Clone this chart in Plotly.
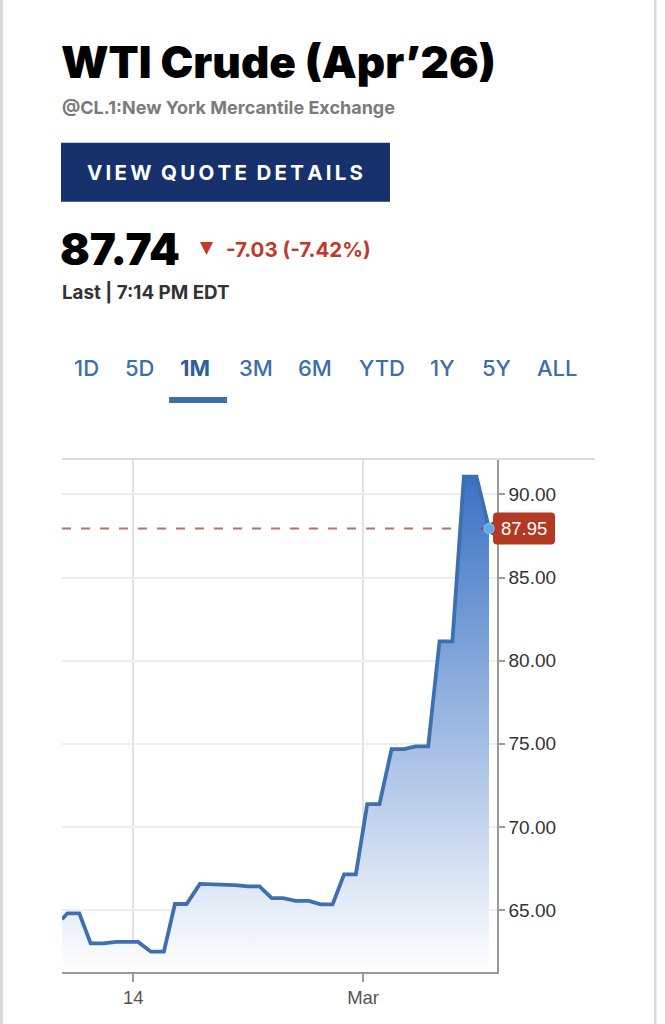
import plotly.graph_objects as go

# ---------------- data ----------------
day = [9.35, 9.70, 10.48, 11.22, 12.04, 12.91, 13.63, 14.32, 15.15, 16.00,
       16.72, 17.48, 18.35, 19.14, 19.89, 20.63, 21.50, 22.24, 23.04, 23.78,
       24.60, 25.47, 26.22, 27.01, 27.76, 28.53, 29.27, 30.07, 30.86, 31.68,
       32.43, 33.25, 33.99, 34.83, 35.58, 36.40, 37.22]
price = [64.44, 64.80, 64.80, 62.99, 62.99, 63.08, 63.08, 63.08, 62.49, 62.49,
         65.36, 65.36, 66.57, 66.55, 66.52, 66.50, 66.42, 66.42, 65.72, 65.72,
         65.55, 65.55, 65.34, 65.34, 67.14, 67.14, 71.37, 71.37, 74.68, 74.68,
         74.84, 74.84, 81.16, 81.16, 91.07, 91.07, 87.95]
x_tickvals = [14, 29]
x_ticktext = ["14", "Mar"]
y_tickvals = [65, 70, 75, 80, 85, 90]
tabs = ["1D", "5D", "1M", "3M", "6M", "YTD", "1Y", "5Y", "ALL"]
active_tab = "1M"

title = "WTI Crude (Apr\u201926)"
subtitle = "@CL.1:New York Mercantile Exchange"
button_text = "VIEW QUOTE DETAILS"
last_price = "87.74"
change_text = "-7.03 (-7.42%)"
time_text = "Last | 7:14 PM EDT"

# ---------------- layout geometry ----------------
W, H = 665, 1024
L, R, T, B = 62, 168, 459, 52
PW, PH = W - L - R, H - T - B
XR = [9.35, 37.74]
YR = [61.27, 92.13]


def px(xp):
    return (xp - L) / PW


def py(yp):
    return (H - B - yp) / PH


BLUE_LINE = "#3d70b0"
RED = "#c0392b"
TAB_BLUE = "#3d6fab"
HEAD = "Inter"

fig = go.Figure()
fig.add_trace(go.Scatter(
    x=day, y=price, mode="lines",
    line=dict(color=BLUE_LINE, width=3.8),
    fill="tozeroy",
    fillgradient=dict(type="vertical", start=YR[0], stop=max(price),
                      colorscale=[[0, "rgba(255,255,255,1)"], [1, "#3a72c4"]]),
    hoverinfo="skip", showlegend=False,
))

last_x, last_y = day[-1], price[-1]
ax_last = (last_x - XR[0]) / (XR[1] - XR[0])
ay_last = (last_y - YR[0]) / (YR[1] - YR[0])

shapes = []
# page side borders
shapes.append(dict(type="rect", xref="paper", yref="paper", x0=px(0), x1=px(3),
                   y0=py(H), y1=py(0), fillcolor="#d9d9d9", line=dict(width=0), layer="above"))
shapes.append(dict(type="rect", xref="paper", yref="paper", x0=px(654), x1=px(656.5),
                   y0=py(H), y1=py(0), fillcolor="#d9d9d9", line=dict(width=0), layer="above"))
# top line of chart
shapes.append(dict(type="line", xref="paper", yref="paper", x0=0, x1=px(595),
                   y0=1, y1=1, line=dict(color="#dcdcdc", width=2), layer="above"))
# button
shapes.append(dict(type="rect", xref="paper", yref="paper", x0=px(61), x1=px(390),
                   y0=py(201.7), y1=py(142.7), fillcolor="#16316c", line=dict(width=0)))
# active tab underline
shapes.append(dict(type="rect", xref="paper", yref="paper", x0=px(169), x1=px(227),
                   y0=py(403), y1=py(397), fillcolor="#3d6ea8", line=dict(width=0)))
# dashed last-price line
shapes.append(dict(type="line", xref="x", yref="y", x0=XR[0], x1=last_x,
                   y0=last_y, y1=last_y, layer="between",
                   line=dict(color="#b9705f", width=1.8, dash="9px,10px")))
# price label box with pointer
r = 4
path = (f"M-9,0 L4,7 L4,{16-r} Q4,16 {4+r},16 L{66-r},16 Q66,16 66,{16-r} "
        f"L66,{-16+r} Q66,-16 {66-r},-16 L{4+r},-16 Q4,-16 4,{-16+r} L4,-7 Z")
shapes.append(dict(type="path", xref="paper", yref="paper", xsizemode="pixel",
                   ysizemode="pixel", xanchor=ax_last, yanchor=ay_last, path=path,
                   fillcolor="#b23a22", line=dict(width=0), layer="above"))
# last point dot
shapes.append(dict(type="circle", xref="x", yref="y", xsizemode="pixel",
                   ysizemode="pixel", xanchor=last_x, yanchor=last_y,
                   x0=-5.2, x1=5.2, y0=-5.2, y1=5.2, fillcolor="#5aaee8",
                   line=dict(color="#86c4ee", width=1), layer="above"))

ann = []


def text(t, xp, yp, size, color, weight="normal", family=HEAD, anchor="left"):
    ann.append(dict(text=t, xref="paper", yref="paper", x=px(xp), y=py(yp),
                    xanchor=anchor, yanchor="middle", showarrow=False,
                    borderpad=0, borderwidth=0,
                    font=dict(family=family, size=size, color=color, weight=weight)))


text(title, 60.5, 62, 44, "#000000", 900)
text(subtitle, 62, 107, 18, "#7b7b7b", 700)
text("\u2009".join(list(button_text)).replace("\u2009 \u2009", "\u2009\u2009\u2009"),
     225, 172.5, 20.5, "#ffffff", 700, anchor="center")
text(last_price, 60, 249, 44, "#000000", 900)
text("\u25BC", 200, 247, 17, RED, 700, family="DejaVu Sans")
text(change_text, 226, 249.5, 20.5, RED, 700)
text(time_text, 62, 292, 18.8, "#333333", 700)

tab_centers = [86.4, 139.6, 195, 256, 314.5, 382, 442, 496, 557]
for t, cx in zip(tabs, tab_centers):
    text(t, cx, 367.5, 22, TAB_BLUE if t != active_tab else "#2f5f9a",
         700 if t == active_tab else 500, anchor="center")

# price label text
ann.append(dict(text=f"{last_y:.2f}", xref="paper", yref="paper", x=ax_last, y=ay_last,
                xshift=35, xanchor="center", yanchor="middle", showarrow=False,
                borderpad=0, borderwidth=0,
                font=dict(family="Liberation Sans", size=18.5, color="#ffffff")))

fig.update_layout(
    width=W, height=H, autosize=False,
    margin=dict(l=L, r=R, t=T, b=B, pad=0),
    paper_bgcolor="#ffffff", plot_bgcolor="#ffffff",
    showlegend=False, shapes=shapes, annotations=ann,
    xaxis=dict(range=XR, tickvals=x_tickvals, ticktext=x_ticktext,
               showgrid=True, gridcolor="#e2e2e2", gridwidth=1.5,
               showline=True, linecolor="#9a9a9a", linewidth=1.5,
               ticks="outside", ticklen=8, tickwidth=1.5, tickcolor="#9a9a9a",
               tickfont=dict(family="Liberation Sans", size=18.5, color="#555555"),
               zeroline=False, fixedrange=True),
    yaxis=dict(range=YR, side="right", tickvals=y_tickvals, tickformat=".2f",
               showgrid=True, gridcolor="#eeeeee", gridwidth=1.5,
               showline=True, linecolor="#9a9a9a", linewidth=1.5,
               ticks="outside", ticklen=6, tickwidth=1.5, tickcolor="#9a9a9a",
               tickfont=dict(family="Liberation Sans", size=19, color="#333333"),
               zeroline=False, fixedrange=True),
)

fig.write_html("out.html", config={"displayModeBar": False})
